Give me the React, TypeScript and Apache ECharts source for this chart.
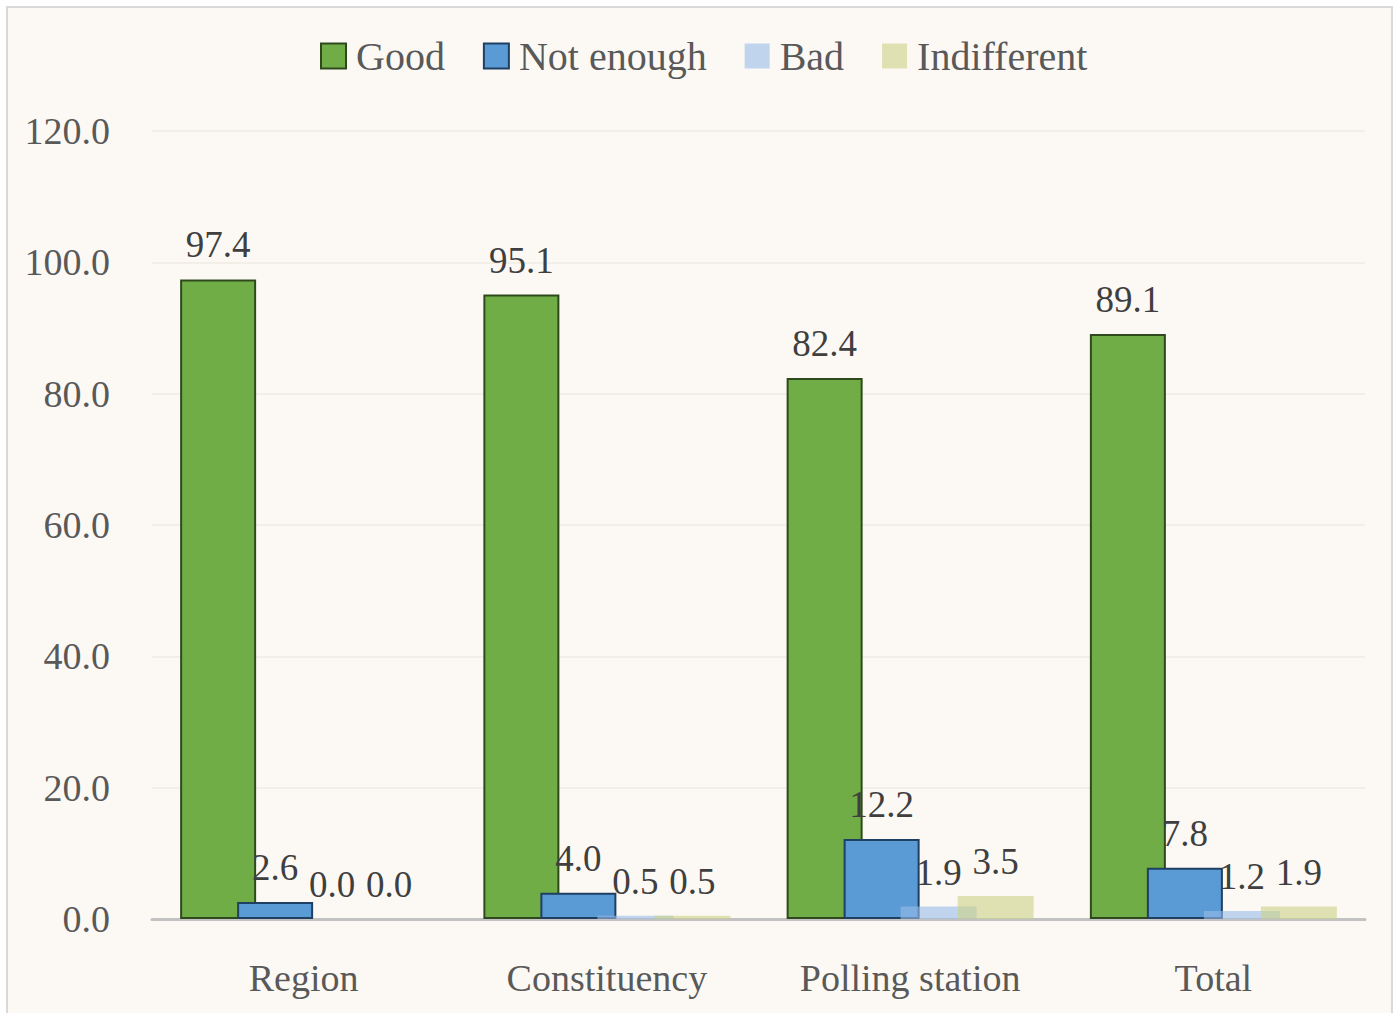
import React, { useEffect, useRef } from "react";
import * as echarts from "echarts";

const categories = ["Region", "Constituency", "Polling station", "Total"];
const seriesNames = ["Good", "Not enough", "Bad", "Indifferent"];
const goodValues = [97.4, 95.1, 82.4, 89.1];
const notEnoughValues = [2.6, 4.0, 12.2, 7.8];
const badValues = [0.0, 0.5, 1.9, 1.2];
const indifferentValues = [0.0, 0.5, 3.5, 1.9];
const yTicks = { min: 0, max: 120, interval: 20 };

const FONT = "'Liberation Serif', 'DejaVu Serif', serif";

export default function App() {
  const ref = useRef<HTMLDivElement>(null);
  useEffect(() => {
    document.body.style.margin = "0";
    const chart = echarts.init(ref.current!, null, { renderer: "svg" });
    const label = {
      show: true,
      position: "top" as const,
      distance: 16,
      fontFamily: FONT,
      fontSize: 37,
      color: "#3f3f3f",
      formatter: (p: any) => Number(p.value).toFixed(1),
    };
    const mk = (name: string, data: number[], itemStyle: any) => ({
      name,
      type: "bar" as const,
      data,
      barWidth: 76,
      barGap: "-25%",
      itemStyle,
      label,
      emphasis: { disabled: true },
    });
    chart.setOption({
      animation: false,
      backgroundColor: "#ffffff",
      graphic: [
        {
          type: "rect",
          z: -10,
          shape: { x: 7, y: 7, width: 1385, height: 1020 },
          style: { fill: "#fcf9f5", stroke: "#d9d9d9", lineWidth: 2 },
          silent: true,
        },
      ],
      legend: {
        left: 315,
        top: 31,
        itemWidth: 25,
        itemHeight: 25,
        itemGap: 38,
        icon: "rect",
        data: seriesNames,
        textStyle: {
          fontFamily: FONT,
          fontSize: 40,
          color: "#595959",
          padding: [0, 0, 0, 5],
        },
      },
      grid: { left: 152, right: 34, top: 131, bottom: 94, containLabel: false },
      xAxis: {
        type: "category",
        data: categories,
        axisLine: { lineStyle: { color: "#c2c2c2", width: 3 } },
        axisTick: { show: false },
        axisLabel: {
          fontFamily: FONT,
          fontSize: 38,
          color: "#595959",
          margin: 40,
        },
      },
      yAxis: {
        type: "value",
        min: yTicks.min,
        max: yTicks.max,
        interval: yTicks.interval,
        axisLine: { show: false },
        axisTick: { show: false },
        splitLine: { lineStyle: { color: "#efebe5", width: 1.5 } },
        axisLabel: {
          fontFamily: FONT,
          fontSize: 38,
          color: "#595959",
          margin: 42,
          formatter: (v: number) => v.toFixed(1),
        },
      },
      series: [
        mk("Good", goodValues, { color: "#70ad47", borderColor: "#2e4a1c", borderWidth: 2 }),
        mk("Not enough", notEnoughValues, { color: "#5b9bd5", borderColor: "#1f3f63", borderWidth: 2 }),
        mk("Bad", badValues, { color: "rgba(152,187,231,0.6)" }),
        mk("Indifferent", indifferentValues, { color: "rgba(204,209,134,0.6)" }),
      ],
    });
    return () => chart.dispose();
  }, []);
  return (
    <div
      ref={ref}
      style={{ position: "fixed", left: 0, top: 0, width: 1399, height: 1013 }}
    />
  );
}
